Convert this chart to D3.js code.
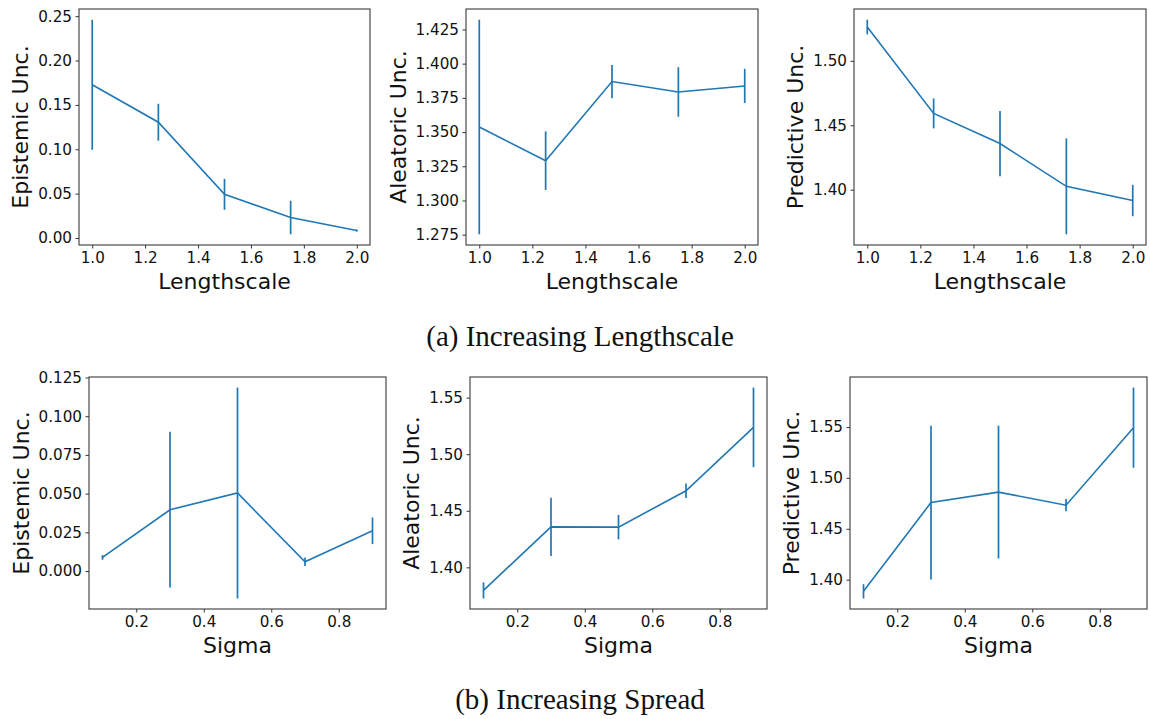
<!DOCTYPE html>
<html>
<head>
<meta charset="utf-8">
<script src="https://cdn.jsdelivr.net/npm/d3@7/dist/d3.min.js"></script>
<style>
  html, body { margin: 0; padding: 0; background: #fff; }
  svg text { font-family: "DejaVu Sans", sans-serif; fill: #111; }
  svg text.caption { font-family: "Liberation Serif", "Times New Roman", serif; }
</style>
</head>
<body>
<svg id="fig" width="1150" height="719"></svg>
<script>
// ---- data ----
const lengthscale = [1.0, 1.25, 1.5, 1.75, 2.0];
const sigma = [0.1, 0.3, 0.5, 0.7, 0.9];

const epistemicLen = [0.1727, 0.1305, 0.0492, 0.0231, 0.0084];
const epistemicLenErr = [0.0733, 0.0208, 0.0174, 0.0189, 0.0013];
const aleatoricLen = [1.3537, 1.3291, 1.3869, 1.3793, 1.3837];
const aleatoricLenErr = [0.0784, 0.0214, 0.0122, 0.0181, 0.0125];
const predictiveLen = [1.5262, 1.4592, 1.4358, 1.4026, 1.3916];
const predictiveLenErr = [0.0057, 0.0116, 0.0253, 0.0372, 0.0122];

const epistemicSig = [0.0088, 0.0396, 0.0504, 0.0060, 0.0260];
const epistemicSigErr = [0.0015, 0.0503, 0.0681, 0.0027, 0.0086];
const aleatoricSig = [1.3796, 1.4358, 1.4355, 1.4677, 1.5237];
const aleatoricSigErr = [0.0071, 0.0258, 0.0108, 0.0065, 0.0352];
const predictiveSig = [1.3886, 1.4758, 1.4860, 1.4732, 1.5493];
const predictiveSigErr = [0.0070, 0.0755, 0.0652, 0.0060, 0.0394];

// tick labels
const lengthscaleTicks = [1.0, 1.2, 1.4, 1.6, 1.8, 2.0];
const sigmaTicks = [0.2, 0.4, 0.6, 0.8];
const epistemicLenTicks = [0.00, 0.05, 0.10, 0.15, 0.20, 0.25];
const aleatoricLenTicks = [1.275, 1.300, 1.325, 1.350, 1.375, 1.400, 1.425];
const predictiveLenTicks = [1.40, 1.45, 1.50];
const epistemicSigTicks = [0.000, 0.025, 0.050, 0.075, 0.100, 0.125];
const aleatoricSigTicks = [1.40, 1.45, 1.50, 1.55];
const predictiveSigTicks = [1.40, 1.45, 1.50, 1.55];

const captions = ["(a) Increasing Lengthscale", "(b) Increasing Spread"];

// ---- layout ----
const svg = d3.select("#fig");
const BLUE = "#1f77b4";

const panels = [
  { box: [79, 9, 370, 245], x: lengthscale, y: epistemicLen, e: epistemicLenErr,
    xt: lengthscaleTicks, yt: epistemicLenTicks, xf: ".1f", yf: ".2f",
    xl: "Lengthscale", yl: "Epistemic Unc." },
  { box: [466, 9, 758, 245], x: lengthscale, y: aleatoricLen, e: aleatoricLenErr,
    xt: lengthscaleTicks, yt: aleatoricLenTicks, xf: ".1f", yf: ".3f",
    xl: "Lengthscale", yl: "Aleatoric Unc." },
  { box: [854, 9, 1146, 245], x: lengthscale, y: predictiveLen, e: predictiveLenErr,
    xt: lengthscaleTicks, yt: predictiveLenTicks, xf: ".1f", yf: ".2f",
    xl: "Lengthscale", yl: "Predictive Unc." },
  { box: [89, 377, 386, 609], x: sigma, y: epistemicSig, e: epistemicSigErr,
    xt: sigmaTicks, yt: epistemicSigTicks, xf: ".1f", yf: ".3f",
    xl: "Sigma", yl: "Epistemic Unc." },
  { box: [470, 377, 767, 609], x: sigma, y: aleatoricSig, e: aleatoricSigErr,
    xt: sigmaTicks, yt: aleatoricSigTicks, xf: ".1f", yf: ".2f",
    xl: "Sigma", yl: "Aleatoric Unc." },
  { box: [850, 377, 1147, 609], x: sigma, y: predictiveSig, e: predictiveSigErr,
    xt: sigmaTicks, yt: predictiveSigTicks, xf: ".1f", yf: ".2f",
    xl: "Sigma", yl: "Predictive Unc." }
];

// data extent padded by 5% on each side
function padded(lo, hi) {
  const m = (hi - lo) * 0.05;
  return [lo - m, hi + m];
}

panels.forEach(p => {
  const [x0, y0, x1, y1] = p.box;
  const lows = p.y.map((v, i) => v - p.e[i]);
  const highs = p.y.map((v, i) => v + p.e[i]);
  const xs = d3.scaleLinear().domain(padded(d3.min(p.x), d3.max(p.x))).range([x0, x1]);
  const ys = d3.scaleLinear().domain(padded(d3.min(lows), d3.max(highs))).range([y1, y0]);

  const g = svg.append("g");

  // x axis
  const xAxis = g.append("g")
    .attr("transform", `translate(0,${y1})`)
    .call(d3.axisBottom(xs).tickValues(p.xt).tickFormat(d3.format(p.xf))
      .tickSizeOuter(0).tickSize(3.5).tickPadding(4));
  // y axis
  const yAxis = g.append("g")
    .attr("transform", `translate(${x0},0)`)
    .call(d3.axisLeft(ys).tickValues(p.yt).tickFormat(d3.format(p.yf))
      .tickSizeOuter(0).tickSize(3.5).tickPadding(3.5));
  [xAxis, yAxis].forEach(a => {
    a.select(".domain").remove();
    a.selectAll(".tick line").attr("stroke", "#333").attr("stroke-width", 1);
    a.selectAll(".tick text").attr("font-size", 15.2)
      .attr("font-family", "DejaVu Sans").attr("fill", "#111");
  });

  // frame
  g.append("rect")
    .attr("x", x0).attr("y", y0).attr("width", x1 - x0).attr("height", y1 - y0)
    .attr("fill", "none").attr("stroke", "#3a3a3a").attr("stroke-width", 1.1);

  // mean line
  g.append("path")
    .datum(p.x.map((v, i) => [v, p.y[i]]))
    .attr("fill", "none").attr("stroke", BLUE).attr("stroke-width", 1.6)
    .attr("d", d3.line().x(d => xs(d[0])).y(d => ys(d[1])));

  // error bars
  g.selectAll("line.err").data(p.x).enter().append("line")
    .attr("class", "err")
    .attr("x1", d => xs(d)).attr("x2", d => xs(d))
    .attr("y1", (d, i) => ys(lows[i])).attr("y2", (d, i) => ys(highs[i]))
    .attr("stroke", BLUE).attr("stroke-width", 1.7);

  // axis labels
  g.append("text")
    .attr("x", (x0 + x1) / 2).attr("y", y1 + 44)
    .attr("text-anchor", "middle").attr("font-size", 22)
    .text(p.xl);

  let maxW = 0;
  yAxis.selectAll(".tick text").each(function () {
    maxW = Math.max(maxW, this.getComputedTextLength());
  });
  const lx = x0 - 7 - maxW - 10;
  g.append("text")
    .attr("transform", `translate(${lx},${(y0 + y1) / 2}) rotate(-90)`)
    .attr("text-anchor", "middle").attr("font-size", 22)
    .text(p.yl);
});

// sub-figure captions
svg.append("text").attr("class", "caption")
  .attr("x", 580).attr("y", 346).attr("text-anchor", "middle")
  .attr("font-size", 29).text(captions[0]);
svg.append("text").attr("class", "caption")
  .attr("x", 580).attr("y", 709).attr("text-anchor", "middle")
  .attr("font-size", 29).text(captions[1]);
</script>
</body>
</html>
